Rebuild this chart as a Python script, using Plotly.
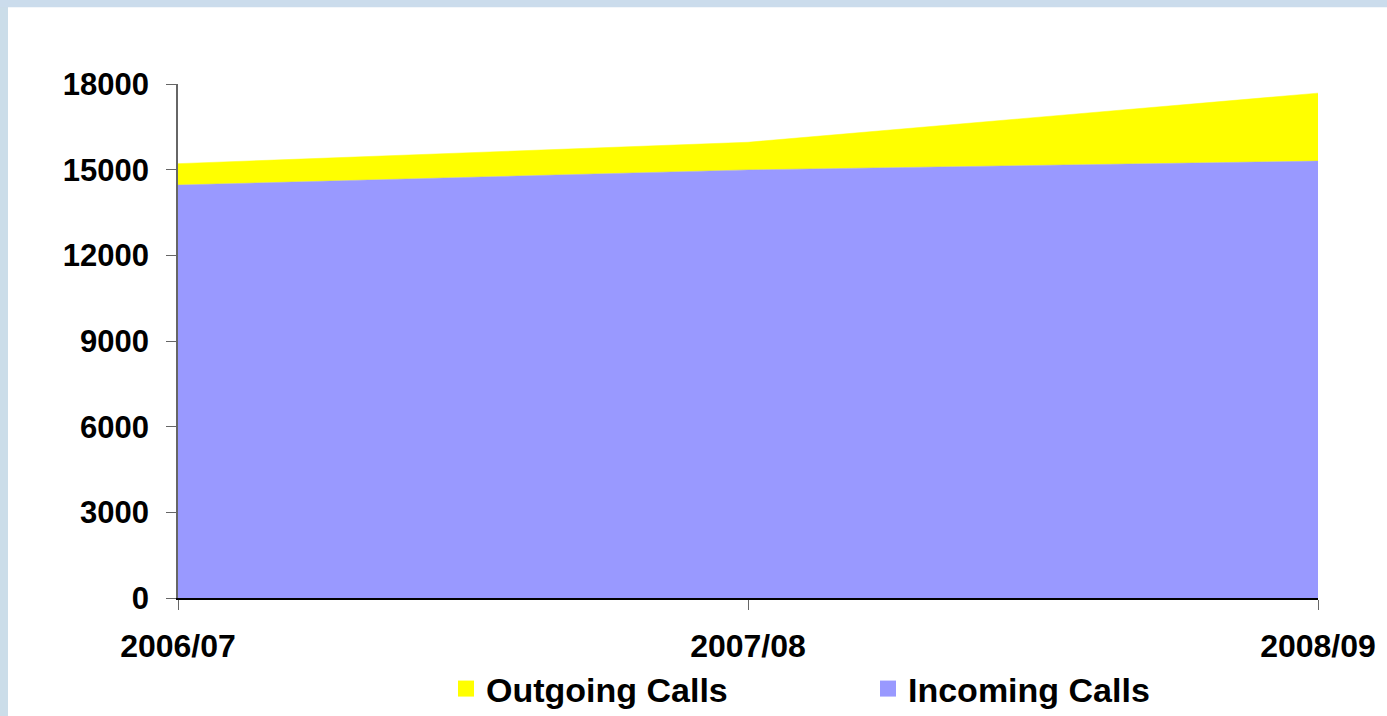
import plotly.graph_objects as go

categories = ["2006/07", "2007/08", "2008/09"]
incoming = [14460, 14990, 15300]
outgoing = [750, 970, 2380]
ytick_vals = [0, 3000, 6000, 9000, 12000, 15000, 18000]

YELLOW = "#ffff00"
PURPLE = "#9999ff"
FONT = "Arial, Liberation Sans, sans-serif"

x = list(range(len(categories)))
fig = go.Figure()
fig.add_trace(go.Scatter(x=x, y=incoming, stackgroup="one", mode="lines",
                         line=dict(width=0.5, color=PURPLE), fillcolor=PURPLE,
                         name="Incoming Calls", showlegend=False))
fig.add_trace(go.Scatter(x=x, y=outgoing, stackgroup="one", mode="lines",
                         line=dict(width=0.5, color=YELLOW), fillcolor=YELLOW,
                         name="Outgoing Calls", showlegend=False))
# legend entries
fig.add_trace(go.Scatter(x=[None], y=[None], mode="markers", name="Outgoing Calls",
                         marker=dict(symbol="square", size=21, color=YELLOW)))
fig.add_trace(go.Scatter(x=[None], y=[None], mode="markers", name="Incoming Calls",
                         marker=dict(symbol="square", size=21, color=PURPLE)))

W, H = 1387, 730
SY = H / 716.0
L, R = 178, 69
T = round(82 * SY)
B = H - round(594 * SY)
pw, ph = W - L - R, H - T - B

def px(xp):
    return (xp - L) / pw

def py(yp):
    return (H - B - yp * SY) / ph

shapes = [
    dict(type="rect", xref="paper", yref="paper", x0=px(-5), x1=px(8), y0=py(H + 5), y1=py(-5),
         fillcolor="#cbdde9", line=dict(width=0), layer="below"),
    dict(type="rect", xref="paper", yref="paper", x0=px(-5), x1=px(W + 5), y0=py(6), y1=py(-5),
         fillcolor="#cbdcec", line=dict(width=0), layer="below"),
]

fig.update_layout(
    width=W, height=H,
    margin=dict(l=L, r=R, t=T, b=B),
    paper_bgcolor="white", plot_bgcolor="white",
    font=dict(family=FONT, size=31, color="black", weight="bold"),
    shapes=shapes,
    showlegend=True,
    legend=dict(orientation="h", x=px(446), xanchor="left", y=py(685), yanchor="middle",
                font=dict(size=34, weight="bold"), entrywidth=377, traceorder="normal",
                bgcolor="rgba(0,0,0,0)"),
    xaxis=dict(range=[0, 2], tickvals=x, ticktext=categories, showgrid=False, zeroline=False,
               showline=True, linecolor="black", linewidth=1.5, ticks="outside", ticklen=10,
               tickcolor="#666666", ticklabelstandoff=9, tickfont=dict(size=32)),
    yaxis=dict(range=[0, 18000], tickvals=ytick_vals, tickformat="d", showgrid=False,
               zeroline=False, showline=True, linecolor="#666666", linewidth=1.5,
               ticks="outside", ticklen=10, tickcolor="#666666", ticklabelstandoff=11),
)
fig.write_html(
    "out.html",
    config={"displayModeBar": False},
    post_script=(
        "var d=document.getElementById('{plot_id}');"
        "d.style.position='fixed';d.style.left='0px';d.style.top='0px';"
        "document.body.style.margin='0';document.body.style.overflow='hidden';"
        "document.documentElement.style.overflow='hidden';"
    ),
)
